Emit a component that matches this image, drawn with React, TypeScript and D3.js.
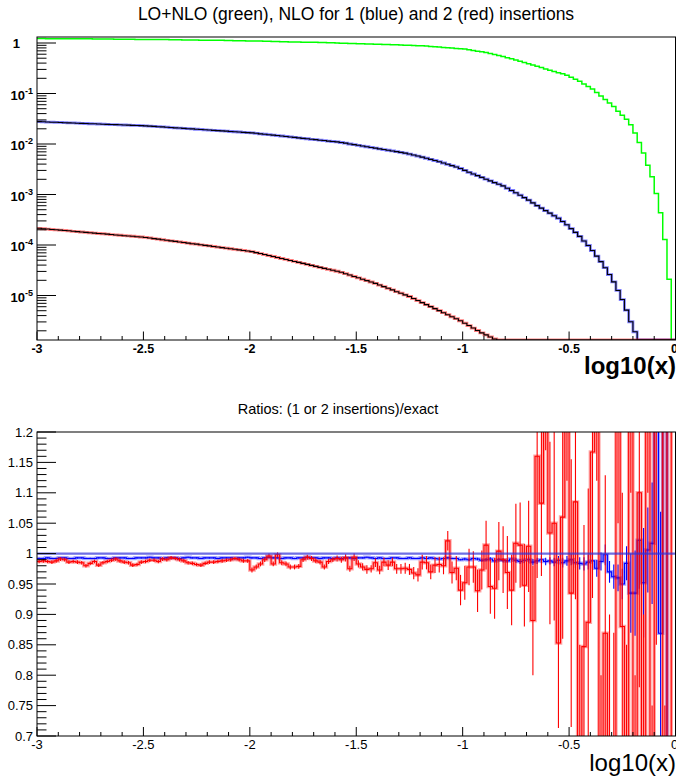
import React, { useEffect, useRef } from "react";
import * as d3 from "d3";

// histogram binning: 150 bins on log10(x) in [-3, 0]
const binLow = -3;
const binHigh = 0;

// LO+NLO (green), 150 bins
const greenLoNlo = [
  1.23, 1.23, 1.22, 1.22, 1.22, 1.22, 1.22, 1.22, 1.21, 1.21,
  1.21, 1.21, 1.21, 1.2, 1.2, 1.2, 1.2, 1.2, 1.19, 1.19,
  1.19, 1.19, 1.19, 1.18, 1.18, 1.18, 1.18, 1.17, 1.17, 1.17,
  1.17, 1.16, 1.16, 1.16, 1.15, 1.15, 1.15, 1.15, 1.14, 1.14,
  1.14, 1.13, 1.13, 1.13, 1.12, 1.12, 1.11, 1.11, 1.11, 1.1,
  1.1, 1.09, 1.09, 1.08, 1.08, 1.07, 1.07, 1.06, 1.06, 1.05,
  1.05, 1.05, 1.04, 1.04, 1.03, 1.03, 1.02, 1.02, 1.01, 1.01,
  1.0, 0.994, 0.989, 0.983, 0.977, 0.972, 0.966, 0.961, 0.955, 0.95,
  0.944, 0.938, 0.932, 0.925, 0.919, 0.913, 0.906, 0.9, 0.894, 0.887,
  0.881, 0.868, 0.855, 0.842, 0.829, 0.817, 0.804, 0.792, 0.78, 0.768,
  0.759, 0.736, 0.713, 0.69, 0.668, 0.646, 0.618, 0.592, 0.565, 0.538,
  0.513, 0.486, 0.461, 0.437, 0.412, 0.389, 0.367, 0.347, 0.326, 0.307,
  0.288, 0.272, 0.257, 0.245, 0.229, 0.209, 0.191, 0.174, 0.155, 0.138,
  0.123, 0.105, 0.0891, 0.0759, 0.0646, 0.055, 0.0447, 0.0372, 0.0309, 0.024,
  0.0166, 0.0107, 6.61e-3, 3.8e-3, 2.24e-3, 1.05e-3, 4.37e-4, 1.29e-4, 2.09e-5, 0,
];

// NLO, 1 insertion (blue)
const blueNlo1 = [
  0.0277, 0.0275, 0.0272, 0.027, 0.0269, 0.0267, 0.0264, 0.0262, 0.0261, 0.0258,
  0.0256, 0.0255, 0.0252, 0.0251, 0.0249, 0.0247, 0.0245, 0.0243, 0.0242, 0.024,
  0.0238, 0.0236, 0.0234, 0.0233, 0.0231, 0.0229, 0.0226, 0.0223, 0.022, 0.0218,
  0.0215, 0.0212, 0.0209, 0.0207, 0.0204, 0.0201, 0.0199, 0.0196, 0.0194, 0.0191,
  0.0189, 0.0186, 0.0184, 0.0182, 0.018, 0.0177, 0.0175, 0.0173, 0.017, 0.0168,
  0.0166, 0.0163, 0.0159, 0.0156, 0.0153, 0.015, 0.0147, 0.0144, 0.0141, 0.0138,
  0.0135, 0.0132, 0.0129, 0.0127, 0.0124, 0.0122, 0.0119, 0.0117, 0.0114, 0.0112,
  0.011, 0.0107, 0.0104, 0.01, 9.73e-3, 9.42e-3, 9.12e-3, 8.83e-3, 8.55e-3, 8.28e-3,
  8.02e-3, 7.76e-3, 7.52e-3, 7.28e-3, 7.05e-3, 6.82e-3, 6.61e-3, 6.32e-3, 6.04e-3, 5.77e-3,
  5.5e-3, 5.22e-3, 4.97e-3, 4.71e-3, 4.46e-3, 4.21e-3, 3.96e-3, 3.73e-3, 3.51e-3, 3.27e-3,
  3.01e-3, 2.75e-3, 2.55e-3, 2.36e-3, 2.18e-3, 2.01e-3, 1.86e-3, 1.72e-3, 1.6e-3, 1.48e-3,
  1.33e-3, 1.2e-3, 1.08e-3, 9.68e-4, 8.67e-4, 7.73e-4, 6.84e-4, 6.03e-4, 5.37e-4, 4.79e-4,
  4.27e-4, 3.8e-4, 3.39e-4, 2.92e-4, 2.51e-4, 2.11e-4, 1.78e-4, 1.48e-4, 1.2e-4, 9.77e-5,
  7.76e-5, 6.03e-5, 4.68e-5, 3.55e-5, 2.6e-5, 1.86e-5, 1.26e-5, 8.32e-6, 5.13e-6, 3.02e-6,
  1.91e-6, 0, 0, 0, 0, 0, 0, 0, 0, 0,
];

// NLO, 2 insertions (red)
const redNlo2 = [
  2.14e-4, 2.1e-4, 2.07e-4, 2.03e-4, 2.0e-4, 1.97e-4, 1.94e-4, 1.91e-4, 1.87e-4, 1.84e-4,
  1.81e-4, 1.78e-4, 1.75e-4, 1.72e-4, 1.69e-4, 1.67e-4, 1.64e-4, 1.61e-4, 1.58e-4, 1.56e-4,
  1.53e-4, 1.51e-4, 1.49e-4, 1.46e-4, 1.44e-4, 1.41e-4, 1.38e-4, 1.34e-4, 1.31e-4, 1.27e-4,
  1.24e-4, 1.21e-4, 1.18e-4, 1.15e-4, 1.12e-4, 1.09e-4, 1.06e-4, 1.04e-4, 1.01e-4, 9.84e-5,
  9.59e-5, 9.35e-5, 9.12e-5, 8.87e-5, 8.65e-5, 8.43e-5, 8.22e-5, 8.02e-5, 7.8e-5, 7.6e-5,
  7.41e-5, 7.08e-5, 6.78e-5, 6.47e-5, 6.19e-5, 5.92e-5, 5.66e-5, 5.41e-5, 5.18e-5, 4.94e-5,
  4.73e-5, 4.52e-5, 4.33e-5, 4.13e-5, 3.95e-5, 3.78e-5, 3.61e-5, 3.45e-5, 3.3e-5, 3.16e-5,
  3.02e-5, 2.88e-5, 2.7e-5, 2.54e-5, 2.38e-5, 2.24e-5, 2.1e-5, 1.97e-5, 1.85e-5, 1.74e-5,
  1.61e-5, 1.5e-5, 1.39e-5, 1.29e-5, 1.19e-5, 1.11e-5, 1.03e-5, 9.55e-6, 8.71e-6, 7.94e-6,
  7.24e-6, 6.61e-6, 6.03e-6, 5.5e-6, 5.01e-6, 4.57e-6, 4.17e-6, 3.8e-6, 3.47e-6, 3.16e-6,
  2.83e-6, 2.54e-6, 2.27e-6, 2.03e-6, 1.82e-6, 1.66e-6, 1.51e-6, 1.38e-6, 0, 0,
  0, 0, 0, 0, 0, 0, 0, 0, 0, 0,
  0, 0, 0, 0, 0, 0, 0, 0, 0, 0,
  0, 0, 0, 0, 0, 0, 0, 0, 0, 0,
  0, 0, 0, 0, 0, 0, 0, 0, 0, 0,
];

// ratio (1 insertion)/exact, blue
const ratioOne = [
  0.992, 0.992, 0.993, 0.992, 0.992, 0.993, 0.993, 0.992, 0.992, 0.993,
  0.993, 0.992, 0.992, 0.992, 0.993, 0.993, 0.992, 0.992, 0.993, 0.993,
  0.993, 0.992, 0.992, 0.993, 0.993, 0.993, 0.994, 0.993, 0.993, 0.992,
  0.993, 0.993, 0.993, 0.992, 0.993, 0.994, 0.993, 0.993, 0.992, 0.993,
  0.993, 0.993, 0.992, 0.993, 0.993, 0.993, 0.992, 0.993, 0.993, 0.994,
  0.993, 0.993, 0.992, 0.993, 0.994, 0.993, 0.993, 0.992, 0.993, 0.993,
  0.992, 0.993, 0.993, 0.994, 0.993, 0.993, 0.992, 0.993, 0.993, 0.992,
  0.993, 0.992, 0.993, 0.993, 0.992, 0.993, 0.993, 0.994, 0.993, 0.992,
  0.993, 0.992, 0.992, 0.993, 0.993, 0.992, 0.992, 0.993, 0.992, 0.992,
  0.993, 0.992, 0.993, 0.992, 0.991, 0.992, 0.993, 0.992, 0.992, 0.99,
  0.991, 0.99, 0.992, 0.991, 0.989, 0.99, 0.991, 0.988, 0.99, 0.989,
  0.988, 0.991, 0.989, 0.987, 0.989, 0.99, 0.986, 0.988, 0.99, 0.987,
  0.988, 0.986, 0.989, 0.985, 0.988, 0.99, 0.985, 0.984, 0.983, 0.986,
  0.988, 0.976, 0.987, 0.998, 0.97, 0.962, 0.96, 0.95, 0.984, 0.935,
  0.935, 1.022, 0.952, 1.006, 1.017, 1.35, 0.869, 1.5, 0.4, 0.3,
];
const ratioOneErr = [
  0.001, 0.001, 0.001, 0.001, 0.001, 0.001, 0.001, 0.001, 0.001, 0.001,
  0.001, 0.001, 0.001, 0.001, 0.001, 0.001, 0.001, 0.001, 0.001, 0.001,
  0.001, 0.001, 0.001, 0.001, 0.001, 0.001, 0.001, 0.001, 0.001, 0.001,
  0.001, 0.001, 0.001, 0.001, 0.001, 0.001, 0.001, 0.001, 0.001, 0.001,
  0.001, 0.001, 0.001, 0.001, 0.001, 0.001, 0.001, 0.001, 0.001, 0.001,
  0.001, 0.001, 0.001, 0.001, 0.001, 0.001, 0.001, 0.001, 0.001, 0.001,
  0.001, 0.001, 0.001, 0.001, 0.001, 0.001, 0.001, 0.001, 0.001, 0.001,
  0.001, 0.001, 0.001, 0.001, 0.001, 0.001, 0.001, 0.001, 0.001, 0.001,
  0.001, 0.001, 0.001, 0.001, 0.001, 0.001, 0.001, 0.001, 0.001, 0.001,
  0.001, 0.001, 0.001, 0.001, 0.001, 0.001, 0.001, 0.001, 0.001, 0.001,
  0.002, 0.002, 0.002, 0.002, 0.0025, 0.0025, 0.003, 0.003, 0.003, 0.0035,
  0.0035, 0.004, 0.004, 0.004, 0.0045, 0.005, 0.005, 0.005, 0.006, 0.006,
  0.006, 0.007, 0.007, 0.008, 0.008, 0.009, 0.009, 0.01, 0.011, 0.012,
  0.013, 0.014, 0.015, 0.017, 0.018, 0.02, 0.022, 0.025, 0.028, 0.065,
  0.07, 0.08, 0.09, 0.07, 0.1, 0.15, 0.2, 0.25, 0.3, 0.4,
];

// ratio (2 insertions)/exact, red
const ratioTwo = [
  0.987, 0.988, 0.987, 0.986, 0.988, 0.991, 0.99, 0.986, 0.987, 0.986,
  0.985, 0.98, 0.984, 0.987, 0.981, 0.985, 0.987, 0.989, 0.991, 0.988,
  0.986, 0.985, 0.981, 0.982, 0.986, 0.987, 0.989, 0.989, 0.987, 0.991,
  0.99, 0.993, 0.992, 0.99, 0.988, 0.985, 0.984, 0.982, 0.981, 0.984,
  0.986, 0.986, 0.987, 0.988, 0.989, 0.99, 0.992, 0.99, 0.988, 0.988,
  0.973, 0.978, 0.983, 0.99, 0.996, 0.983, 0.998, 0.985, 0.983, 0.978,
  0.978, 0.979, 0.99, 0.994, 0.992, 0.988, 0.986, 0.978, 0.987, 0.99,
  0.992, 0.99, 0.993, 0.975, 0.994, 0.983, 0.978, 0.974, 0.975, 0.985,
  0.973, 0.986, 0.981, 0.986, 0.975, 0.975, 0.976, 0.974, 0.968, 0.965,
  0.986, 0.985, 0.97, 0.981, 0.982, 0.98, 1.021, 0.969, 0.976, 0.94,
  0.952, 0.978, 0.978, 0.939, 0.973, 1.014, 0.946, 0.943, 1.004, 0.99,
  0.969, 0.94, 1.017, 1.014, 0.948, 1.012, 0.89, 1.16, 1.083, 1.35,
  1.034, 1.05, 0.853, 1.06, 1.3, 0.935, 1.085, 0.6, 0.847, 0.887,
  1.167, 1.4, 0.5, 0.869, 0.6, 0.62, 1.35, 0.88, 0.55, 1.45,
  0.5, 1.1, 0.6, 1.5, 0.4, 1.25, 1.6, 0.3, 1.8, 0.2,
];
const ratioTwoErr = [
  0.003, 0.003, 0.003, 0.003, 0.003, 0.003, 0.003, 0.003, 0.003, 0.003,
  0.003, 0.003, 0.003, 0.003, 0.003, 0.003, 0.003, 0.003, 0.003, 0.003,
  0.003, 0.003, 0.003, 0.003, 0.003, 0.003, 0.003, 0.003, 0.003, 0.003,
  0.003, 0.003, 0.003, 0.003, 0.003, 0.003, 0.003, 0.003, 0.003, 0.003,
  0.003, 0.003, 0.003, 0.003, 0.003, 0.003, 0.003, 0.003, 0.003, 0.003,
  0.004, 0.004, 0.004, 0.004, 0.004, 0.004, 0.004, 0.004, 0.004, 0.004,
  0.004, 0.004, 0.004, 0.004, 0.004, 0.004, 0.004, 0.004, 0.004, 0.004,
  0.005, 0.005, 0.006, 0.005, 0.006, 0.006, 0.006, 0.007, 0.006, 0.007,
  0.007, 0.007, 0.008, 0.007, 0.008, 0.008, 0.009, 0.009, 0.01, 0.011,
  0.012, 0.011, 0.012, 0.013, 0.013, 0.014, 0.016, 0.018, 0.02, 0.025,
  0.028, 0.03, 0.026, 0.035, 0.032, 0.04, 0.045, 0.05, 0.048, 0.055,
  0.06, 0.058, 0.065, 0.07, 0.068, 0.075, 0.09, 0.2, 0.12, 0.18,
  0.15, 0.16, 0.14, 0.2, 0.18, 0.22, 0.16, 0.25, 0.2, 0.22,
  0.24, 0.28, 0.3, 0.26, 0.3, 0.25, 0.3, 0.22, 0.3, 0.35,
  0.3, 0.32, 0.3, 0.4, 0.35, 0.4, 0.4, 0.45, 0.5, 0.5,
];

const xTickLabels = ["-3", "-2.5", "-2", "-1.5", "-1", "-0.5", "0"];
const decadeExponents = [0, -1, -2, -3, -4, -5];
const ratioTickLabels = ["0.7", "0.75", "0.8", "0.85", "0.9", "0.95", "1", "1.05", "1.1", "1.15", "1.2"];

const W = 676;
const H = 777;
const FONT = "'Liberation Sans', Arial, Helvetica, sans-serif";

export default function App() {
  const ref = useRef<SVGSVGElement>(null);

  useEffect(() => {
    const svg = d3.select(ref.current);
    svg.selectAll("*").remove();
    svg.append("rect").attr("width", W).attr("height", H).attr("fill", "white");

    const nBins = greenLoNlo.length;
    const edges = d3.range(nBins + 1).map((i) => binLow + ((binHigh - binLow) * i) / nBins);
    const centers = d3.range(nBins).map((i) => (edges[i] + edges[i + 1]) / 2);

    const left = 37;
    const right = 675.5;
    const x = d3.scaleLinear().domain([binLow, binHigh]).range([left, right]);

    const topY0 = 37, topY1 = 340;
    const botY0 = 432, botY1 = 736;
    const yTop = d3.scaleLog().domain([1.315e-6, 1.315]).range([topY1, topY0]);
    const yRat = d3.scaleLinear().domain([0.7, 1.2]).range([botY1, botY0]);

    const defs = svg.append("defs");
    defs.append("clipPath").attr("id", "clipTop").append("rect")
      .attr("x", left).attr("y", topY0).attr("width", right - left).attr("height", topY1 - topY0);
    defs.append("clipPath").attr("id", "clipBot").append("rect")
      .attr("x", left).attr("y", botY0).attr("width", right - left).attr("height", botY1 - botY0);

    const stepPath = (vals: number[], y: (v: number) => number, lo: number, hi: number) => {
      const c = (v: number) => Math.min(hi, Math.max(lo, v));
      const pts: [number, number][] = vals.map((v, i) => [x(edges[i]), y(c(v))]);
      pts.push([x(edges[nBins]), y(c(vals[nBins - 1]))]);
      return d3.line().curve(d3.curveStepAfter)(pts) as string;
    };

    // ---------- top pad ----------
    svg.append("text").attr("x", 356).attr("y", 20).attr("text-anchor", "middle")
      .attr("font-family", FONT).attr("font-size", 17.5).text("LO+NLO (green), NLO for 1 (blue) and 2 (red) insertions");

    const gTop = svg.append("g").attr("clip-path", "url(#clipTop)");
    const tLo = 1.315e-6, tHi = 1.315;
    gTop.append("path").attr("d", stepPath(greenLoNlo, yTop, tLo, tHi))
      .attr("fill", "none").attr("stroke", "#00ff00").attr("stroke-width", 1.5);
    gTop.append("path").attr("d", stepPath(blueNlo1, yTop, tLo, tHi))
      .attr("fill", "none").attr("stroke", "#0000ff").attr("stroke-opacity", 0.5).attr("stroke-width", 2.8);
    gTop.append("path").attr("d", stepPath(blueNlo1, yTop, tLo, tHi))
      .attr("fill", "none").attr("stroke", "black").attr("stroke-width", 1.1);
    gTop.append("path").attr("d", stepPath(redNlo2, yTop, tLo, tHi))
      .attr("fill", "none").attr("stroke", "#ff0000").attr("stroke-opacity", 0.5).attr("stroke-width", 2.8);
    gTop.append("path").attr("d", stepPath(redNlo2, yTop, tLo, tHi))
      .attr("fill", "none").attr("stroke", "black").attr("stroke-width", 1.1);

    // frame
    svg.append("rect").attr("x", left).attr("y", topY0).attr("width", right - left).attr("height", topY1 - topY0)
      .attr("fill", "none").attr("stroke", "black").attr("stroke-width", 1);

    // y log ticks
    const axTop = svg.append("g").attr("stroke", "black").attr("stroke-width", 1);
    for (let e = -6; e <= 0; e++) {
      for (let m = 1; m <= 9; m++) {
        const v = m * Math.pow(10, e);
        if (v < tLo || v > tHi) continue;
        const len = m === 1 ? 19 : 9.5;
        axTop.append("line").attr("x1", left).attr("x2", left + len).attr("y1", yTop(v)).attr("y2", yTop(v));
      }
    }
    decadeExponents.forEach((e) => {
      const v = Math.pow(10, e);
      const t = svg.append("text").attr("font-family", FONT).attr("font-weight", "bold")
        .attr("font-size", 13).attr("text-anchor", "end");
      if (e === 0) {
        t.attr("x", 20).attr("y", yTop(v) + 4.5).text("1");
      } else {
        t.attr("x", 33).attr("y", yTop(v) + 6);
        t.append("tspan").text("10");
        t.append("tspan").attr("dy", -6).attr("font-size", 9).text(String(e));
      }
    });

    // x ticks (same layout in both pads)
    const drawXAxis = (yBase: number, major: number, minor: number, bold: boolean, labelY: number, size: number) => {
      const g = svg.append("g").attr("stroke", "black").attr("stroke-width", 1);
      d3.range(31).forEach((k) => {
        const v = binLow + k * 0.1;
        const len = k % 5 === 0 ? major : minor;
        g.append("line").attr("x1", x(v)).attr("x2", x(v)).attr("y1", yBase).attr("y2", yBase - len);
      });
      xTickLabels.forEach((lab, i) => {
        // the last label sits on the right edge of the canvas, partly cut as in the original
        const px = i === xTickLabels.length - 1 ? x(binHigh) - 1 : x(binLow + i * 0.5);
        svg.append("text").attr("x", px).attr("y", labelY).attr("text-anchor", "middle")
          .attr("font-family", FONT).attr("font-weight", bold ? "bold" : "normal").attr("font-size", size).text(lab);
      });
    };
    drawXAxis(topY1, 8.5, 4, true, 353, 12.5);
    svg.append("text").attr("x", 676).attr("y", 374).attr("text-anchor", "end")
      .attr("font-family", FONT).attr("font-weight", "bold").attr("font-size", 24).text("log10(x)");

    // ---------- ratio pad ----------
    svg.append("text").attr("x", 338).attr("y", 414).attr("text-anchor", "middle")
      .attr("font-family", FONT).attr("font-size", 14.5).text("Ratios: (1 or 2 insertions)/exact");

    const gBot = svg.append("g").attr("clip-path", "url(#clipBot)");
    const rLo = 0.69, rHi = 1.21;
    const drawRatio = (vals: number[], errs: number[], color: string) => {
      gBot.append("path").attr("d", stepPath(vals, yRat, rLo, rHi))
        .attr("fill", "none").attr("stroke", color).attr("stroke-opacity", 0.35).attr("stroke-width", 3.5);
      gBot.append("path").attr("d", stepPath(vals, yRat, rLo, rHi))
        .attr("fill", "none").attr("stroke", color).attr("stroke-width", 1.1);
      const bars = gBot.append("g").attr("stroke", color).attr("stroke-width", 1.1);
      vals.forEach((v, i) => {
        const a = Math.min(rHi, Math.max(rLo, v - errs[i]));
        const b = Math.min(rHi, Math.max(rLo, v + errs[i]));
        bars.append("line").attr("x1", x(centers[i])).attr("x2", x(centers[i])).attr("y1", yRat(a)).attr("y2", yRat(b));
      });
    };
    drawRatio(ratioOne, ratioOneErr, "#0000ff");
    drawRatio(ratioTwo, ratioTwoErr, "#ff0000");
    gBot.append("line").attr("x1", left).attr("x2", right).attr("y1", yRat(1)).attr("y2", yRat(1))
      .attr("stroke", "#3030d8").attr("stroke-opacity", 0.7).attr("stroke-width", 2.2);

    svg.append("rect").attr("x", left).attr("y", botY0).attr("width", right - left).attr("height", botY1 - botY0)
      .attr("fill", "none").attr("stroke", "black").attr("stroke-width", 1);

    const axBot = svg.append("g").attr("stroke", "black").attr("stroke-width", 1);
    d3.range(51).forEach((k) => {
      const v = 0.7 + k * 0.01;
      const len = k % 5 === 0 ? 19 : 9.5;
      axBot.append("line").attr("x1", left).attr("x2", left + len).attr("y1", yRat(v)).attr("y2", yRat(v));
    });
    ratioTickLabels.forEach((lab) => {
      svg.append("text").attr("x", 33).attr("y", yRat(+lab) + 4.5).attr("text-anchor", "end")
        .attr("font-family", FONT).attr("font-size", 13).text(lab);
    });
    drawXAxis(botY1, 9, 4, false, 749, 13);
    svg.append("text").attr("x", 676).attr("y", 771).attr("text-anchor", "end")
      .attr("font-family", FONT).attr("font-size", 24).text("log10(x)");
  }, []);

  return (
    <svg ref={ref} width={W} height={H} style={{ position: "absolute", left: 0, top: 0 }} />
  );
}
